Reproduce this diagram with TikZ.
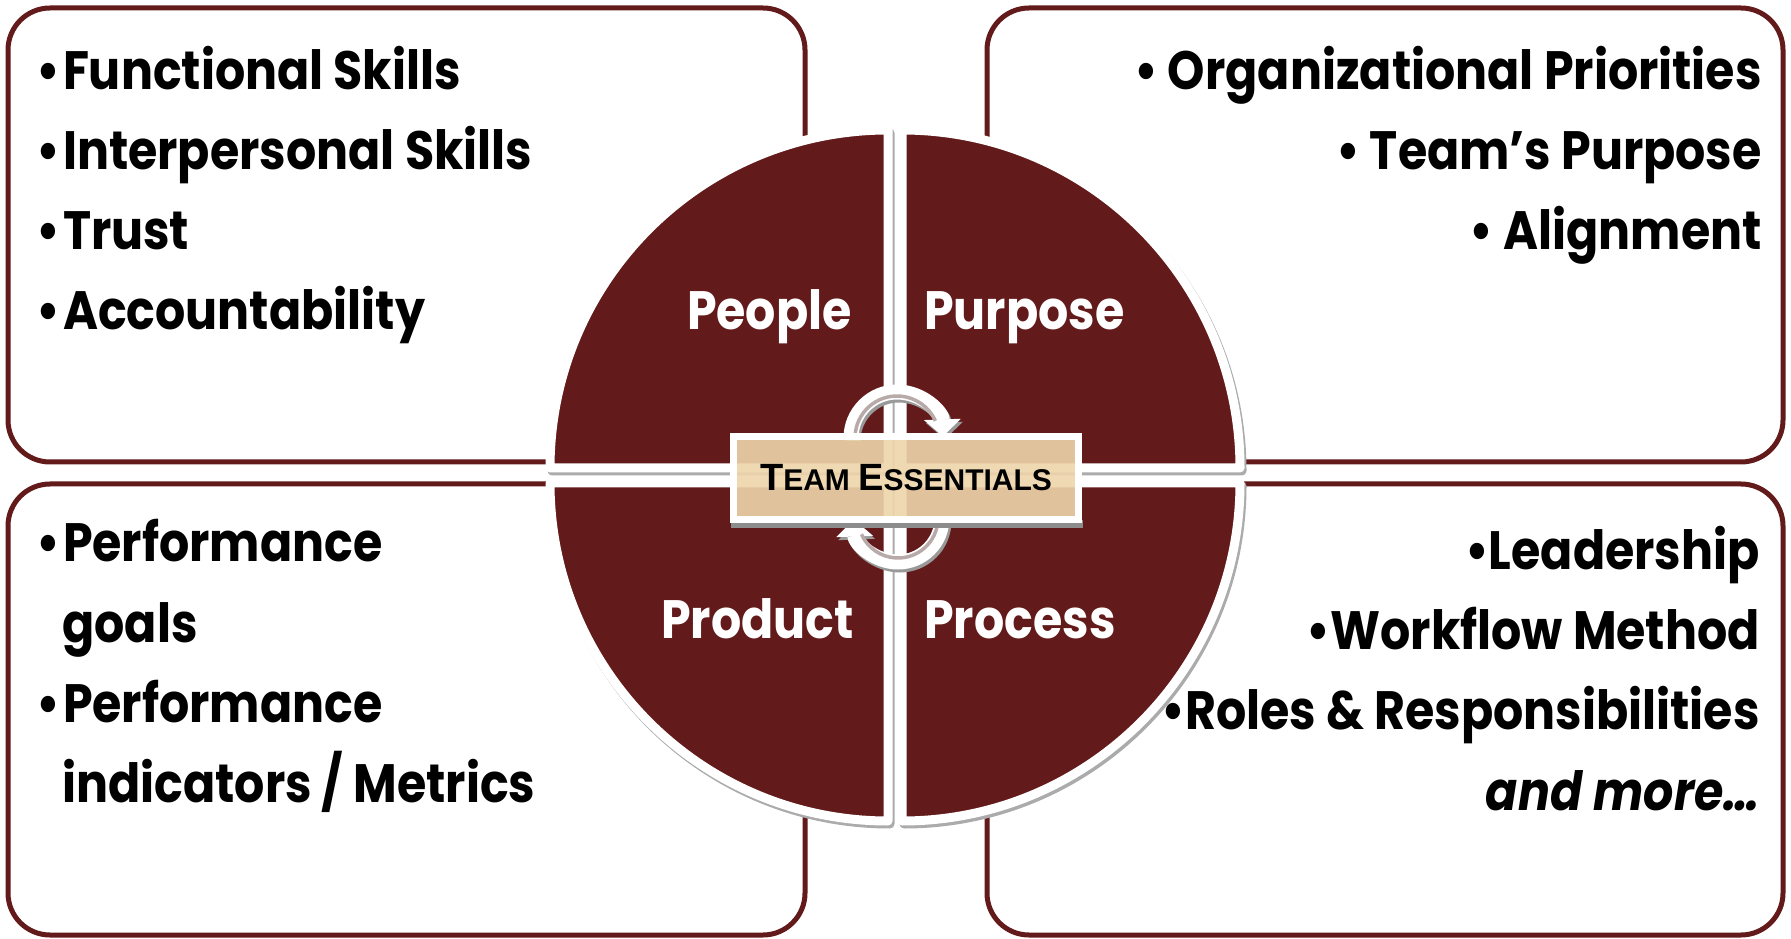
\documentclass[tikz,border=0pt]{standalone}
\usepackage{fontspec}
\setmainfont{Poppins}[FakeStretch=0.88]
\newfontfamily\capfont{Liberation Sans}
\usetikzlibrary{arrows.meta}

\definecolor{teamred}{RGB}{99,26,26}
\definecolor{teamtan}{RGB}{238,213,171}
\definecolor{arcgrey}{RGB}{185,170,170}

\tikzstyle{cornerbox}=[draw=teamred,
                       line width=5pt,
                       fill=white,
                       rounded corners=42pt]
\tikzstyle{slice}=[fill=teamred,
                   draw=white,
                   line width=9pt,
                   line join=round]
\tikzstyle{sliceshadow}=[fill=black!33,
                         draw=black!33,
                         line width=9pt,
                         line join=round]
\tikzstyle{listtext}=[inner sep=0pt,
                      font=\fontsize{54}{64}\selectfont\bfseries]
\tikzstyle{slicetext}=[listtext,
                       text=white]
\tikzstyle{cyclearrow}=[draw=white,
                        line width=15pt,
                        -{Triangle[width=36pt,length=17pt]}]
\tikzstyle{essbox}=[draw=white,
                    line width=7pt,
                    fill=teamtan,
                    fill opacity=0.9,
                    text opacity=1,
                    minimum width=345pt,
                    minimum height=83pt,
                    inner sep=0pt,
                    font=\capfont\bfseries]

\begin{document}
\begin{tikzpicture}[x=1pt,y=1pt]
    \useasboundingbox (0,0) rectangle (1791,938);

    % the four boxes
    \draw[cornerbox] (8,476) rectangle (805,930);
    \draw[cornerbox] (987,476) rectangle (1783,930);
    \draw[cornerbox] (8,3) rectangle (805,454);
    \draw[cornerbox] (987,3) rectangle (1783,454);

    % the circle, cut in four
    \foreach \ax/\ay/\sa/\ea in {888/470/90/180, 902/470/0/90, 888/455/180/270, 902/455/270/360}
        \draw[sliceshadow] (\ax+2,\ay-3) -- +(\sa:338pt) arc[start angle=\sa, end angle=\ea, radius=338pt] -- cycle;
    \foreach \ax/\ay/\sa/\ea in {888/470/90/180, 902/470/0/90, 888/455/180/270, 902/455/270/360}
        \draw[slice] (\ax,\ay) -- +(\sa:338pt) arc[start angle=\sa, end angle=\ea, radius=338pt] -- cycle;

    % turning arrows
    \coordinate (topc) at (897,500);
    \coordinate (botc) at (898,420);
    \draw[cyclearrow, draw=black!40] ([shift={(2,-3)}]topc) ++(180:46pt) arc[start angle=180, end angle=2, radius=46pt];
    \draw[cyclearrow, draw=black!40] ([shift={(2,-3)}]botc) ++(0:44pt) arc[start angle=0, end angle=-178, radius=44pt];
    \draw[cyclearrow] (topc) ++(180:46pt) arc[start angle=180, end angle=2, radius=46pt];
    \draw[cyclearrow] (botc) ++(0:44pt) arc[start angle=0, end angle=-178, radius=44pt];
    \draw[arcgrey, line width=3.5pt] (topc) ++(177:42pt) arc[start angle=177, end angle=24, radius=42pt];
    \draw[arcgrey, line width=3.5pt] (botc) ++(-3:40pt) arc[start angle=-3, end angle=-156, radius=40pt];

    % centre label
    \fill[black!45] (731,410) rectangle (1083,418);
    \node[essbox] (essentials) at (906,460)
        {\fontsize{38}{40}\selectfont T\fontsize{30}{32}\selectfont EAM
         \fontsize{38}{40}\selectfont E\fontsize{30}{32}\selectfont SSENTIALS};

    % quarter names
    \node[slicetext, anchor=base east] (people) at (852,608) {People};
    \node[slicetext, anchor=base west] (purpose) at (924,608) {Purpose};
    \node[slicetext, anchor=base east] (product) at (854,300) {Product};
    \node[slicetext, anchor=base west] (process) at (924,300) {Process};

    % people
    \node[listtext, anchor=base west] (functional) at (36,848) {•\hspace{3pt}Functional Skills};
    \node[listtext, anchor=base west] (interpersonal) at (36,768) {•\hspace{3pt}Interpersonal Skills};
    \node[listtext, anchor=base west] (trust) at (36,688) {•\hspace{3pt}Trust};
    \node[listtext, anchor=base west] (account) at (36,608) {•\hspace{3pt}Accountability};

    % purpose
    \node[listtext, anchor=base east] (priorities) at (1762,848) {• Organizational Priorities};
    \node[listtext, anchor=base east] (teampurpose) at (1762,768) {• Team’s Purpose};
    \node[listtext, anchor=base east] (alignment) at (1762,688) {• Alignment};

    % product
    \node[listtext, anchor=base west] (goals1) at (36,376) {•\hspace{3pt}Performance};
    \node[listtext, anchor=base west] (goals2) at (62,295) {goals};
    \node[listtext, anchor=base west] (metrics1) at (36,216) {•\hspace{3pt}Performance};
    \node[listtext, anchor=base west] (metrics2) at (62,136) {indicators / Metrics};

    % process
    \node[listtext, anchor=base east] (leadership) at (1760,368) {•Leadership};
    \node[listtext, anchor=base east] (workflow) at (1760,288) {•Workflow Method};
    \node[listtext, anchor=base east] (roles) at (1760,209) {•Roles \& Responsibilities};
    \node[listtext, anchor=base east] (more) at (1760,128) {\itshape and more…};
\end{tikzpicture}
\end{document}
